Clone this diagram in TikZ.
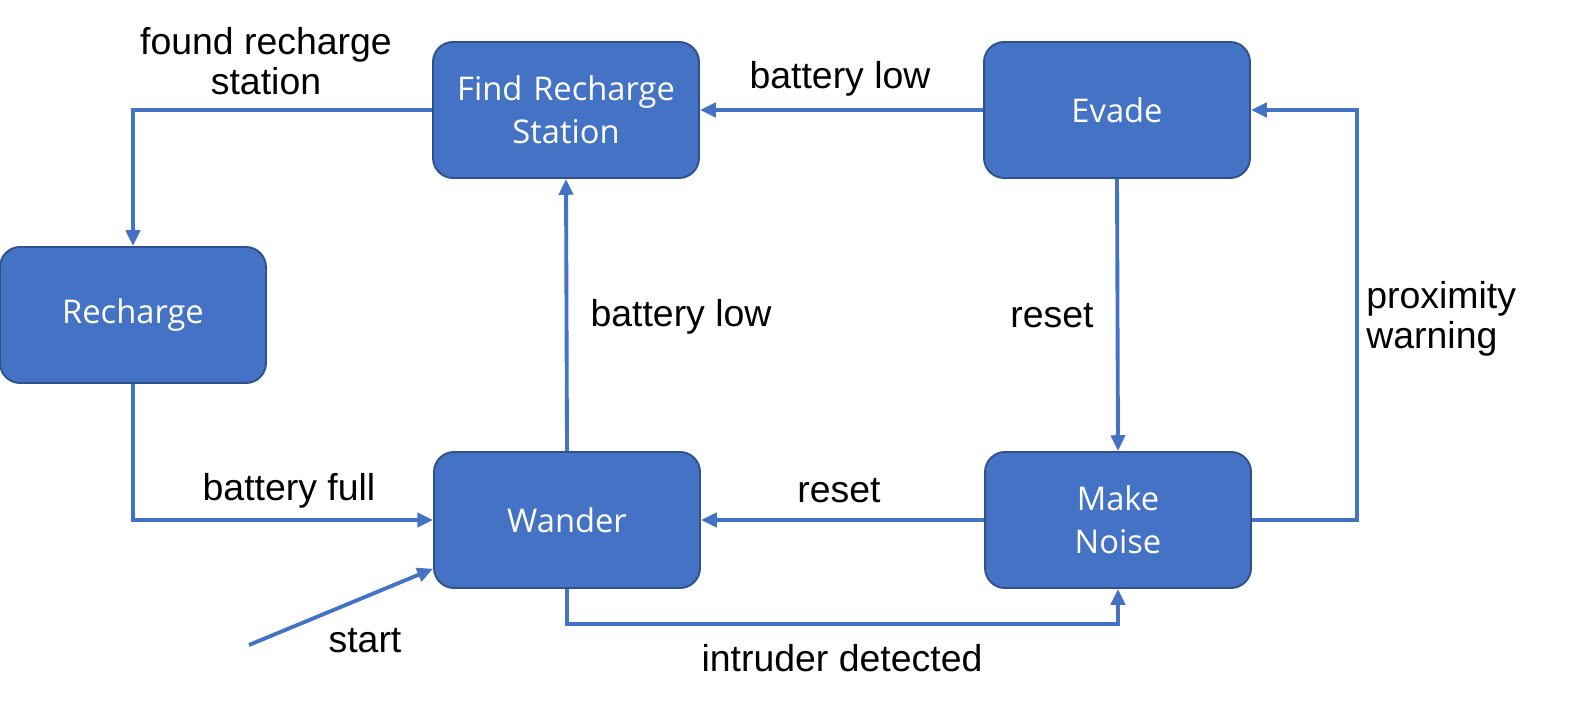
\documentclass[tikz,border=0pt]{standalone}
\usepackage{fontspec}
\setmainfont{Liberation Sans}
\newfontfamily\boxfont{Open Sans}
\usepackage{tikz}
\usetikzlibrary{positioning,arrows.meta,calc}
\definecolor{officeblue}{HTML}{4472C4}
\definecolor{officeedge}{HTML}{2F528F}
\tikzset{
	>={Triangle[length=9pt,width=8pt]},
	state/.style={
		rectangle,
		rounded corners=0.4cm,
		fill=officeblue,
		draw=officeedge, line width=1.1pt,
		text=white,
		minimum width=5.32cm,
		minimum height=2.72cm,
		text width=5cm,
		align=center,
		font={\boxfont\fontsize{18.6pt}{24.4pt}\selectfont}
	},
	line/.style={draw=officeblue, line width=2.2pt, ->},
	lbl/.style={font={\fontsize{21.3pt}{23pt}\selectfont}, inner sep=0pt},
}

\begin{document}
\begin{tikzpicture}[x=0.02cm,y=-0.02cm]
	\useasboundingbox (0,0) rectangle (1591,702);
	% states
	\node[state] (recharge) at (133,315)  {Recharge};
	\node[state] (find)     at (566,110)  {Find Recharge\\Station};
	\node[state] (evade)    at (1117,110) {Evade};
	\node[state] (wander)   at (567,520)  {Wander};
	\node[state] (noise)    at (1118,520) {Make\\Noise};
	% transitions
	\draw[line] (find.west) -| (recharge.north);
	\draw[line] (recharge.south) |- (wander.west);
	\draw[line] (evade.west) -- (find.east);
	\draw[line] (wander.north) -- (find.south);
	\draw[line] (evade.south) -- (noise.north);
	\draw[line] (noise.west) -- (wander.east);
	\draw[line] (wander.south) -- ++(0,35) -| (noise.south);
	\draw[line] (noise.east) -- ++(105,0) |- (evade.east);
	\coordinate (s) at (249,645);
	\draw[line] (s) -- (wander.200);
	% labels
	\node[lbl, align=center] (lfound) at (266,61)  {found recharge\\station};
	\node[lbl] (lbatlow1) at (840,79)  {battery low};
	\node[lbl] (lbatlow2) at (681,317) {battery low};
	\node[lbl] (lreset1)  at (1052,316) {reset};
	\node[lbl] (lreset2)  at (839,491) {reset};
	\node[lbl] (lfull)    at (289,491) {battery full};
	\node[lbl, anchor=west, align=left] (lprox) at (1366,319) {proximity\\warning};
	\node[lbl] (lintr)    at (842,658) {intruder detected};
	\node[lbl] (lstart)   at (365,641) {start};
\end{tikzpicture}
\end{document}
